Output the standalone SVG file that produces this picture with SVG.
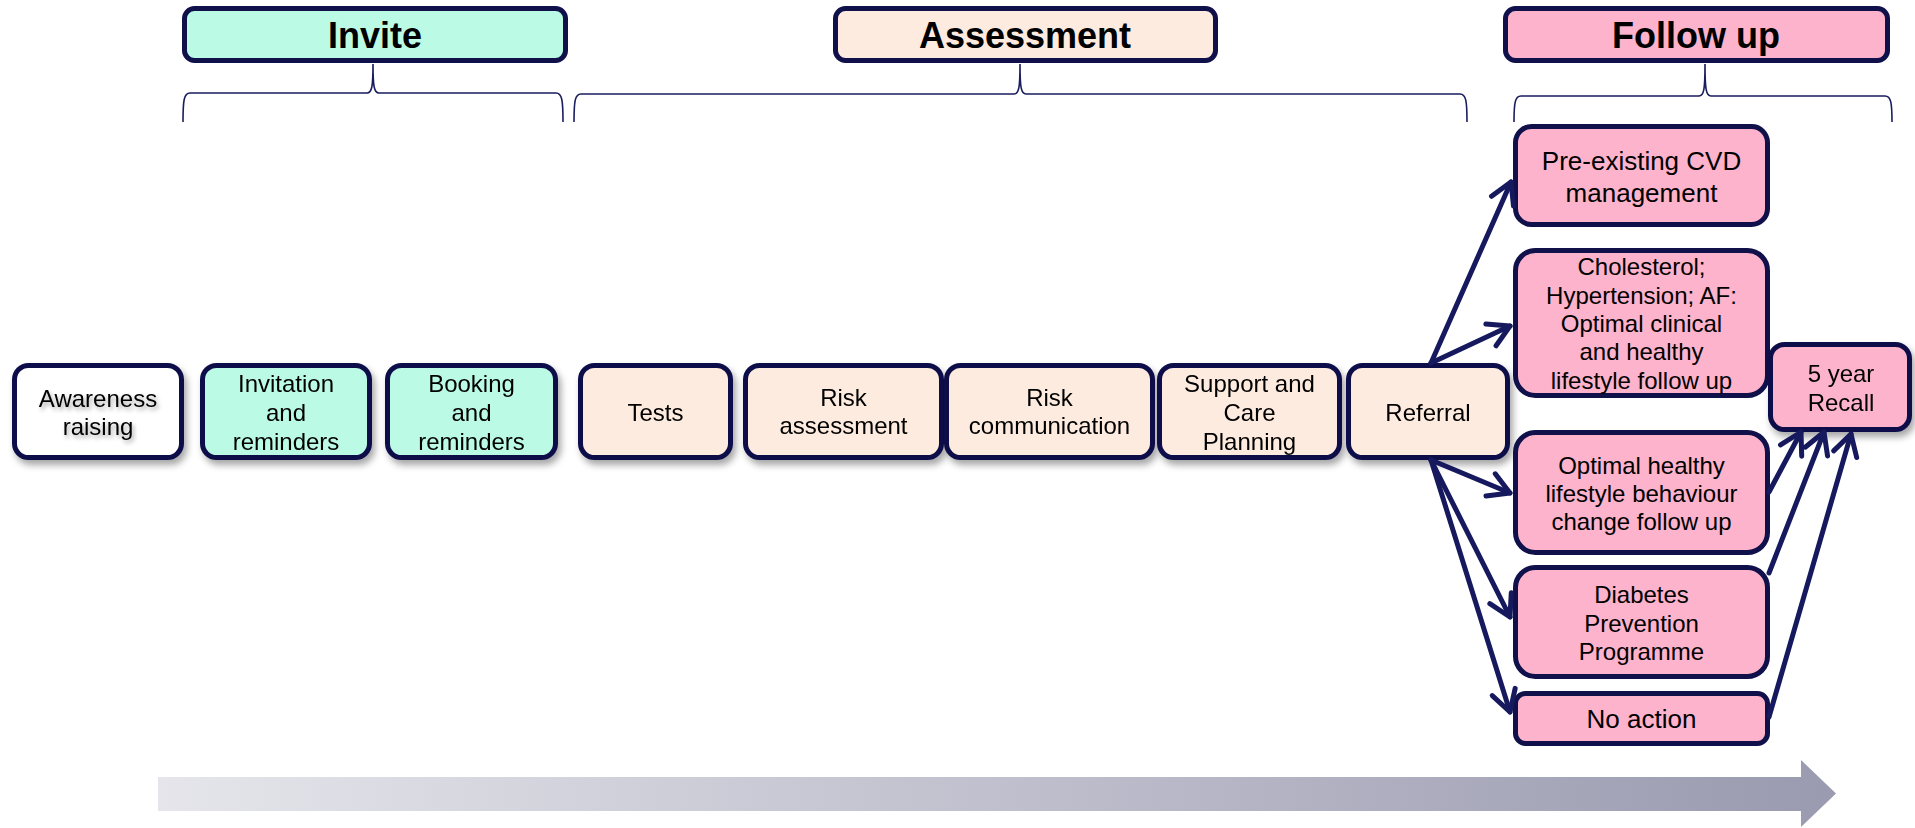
<svg xmlns="http://www.w3.org/2000/svg" width="1915" height="828" viewBox="0 0 1915 828">
  <defs>
    <style>
      .box { stroke: #10104a; stroke-width: 5; }
      .head { stroke: #10104a; stroke-width: 5; }
      .mint { fill: #bbfbe6; }
      .peach { fill: #fdebdf; }
      .pink { fill: #fdb3cb; }
      .white { fill: #ffffff; }
      .brace { fill: none; stroke: #1a1d5e; stroke-width: 1.6; }
      .conn { fill: none; stroke: #16195e; stroke-width: 5; stroke-linecap: round; marker-end: url(#arrow); }
      text { font-family: "Liberation Sans", Arial, sans-serif; fill: #000; text-anchor: middle; }
      .t24 { font-size: 24px; }
      .t26 { font-size: 26px; }
      .title { font-size: 36px; font-weight: bold; }
    </style>
    <filter id="shadow" x="-20%" y="-20%" width="150%" height="160%">
      <feDropShadow dx="3" dy="5" stdDeviation="3.5" flood-color="#000" flood-opacity="0.35"/>
    </filter>
    <filter id="textShadow" x="-10%" y="-30%" width="130%" height="180%">
      <feDropShadow dx="2" dy="3" stdDeviation="2" flood-color="#000" flood-opacity="0.35"/>
    </filter>
    <marker id="arrow" markerUnits="userSpaceOnUse" viewBox="-26 -16 30 32" refX="0" refY="0" markerWidth="30" markerHeight="32" orient="auto">
      <path d="M-21,-12 L0,0 L-21,12" fill="none" stroke="#16195e" stroke-width="5" stroke-linecap="round" stroke-linejoin="round"/>
    </marker>
    <linearGradient id="timeline" x1="0" y1="0" x2="1" y2="0">
      <stop offset="0" stop-color="#e5e5eb"/>
      <stop offset="1" stop-color="#9a9ab0"/>
    </linearGradient>
  </defs>

  <!-- stage headers -->
  <g id="header-invite">
    <rect class="head mint" x="184.5" y="8.5" width="381" height="52" rx="10"/>
    <text class="title" x="375" y="48">Invite</text>
  </g>
  <g id="header-assessment">
    <rect class="head peach" x="835.5" y="8.5" width="380" height="52" rx="10"/>
    <text class="title" x="1025" y="48">Assessment</text>
  </g>
  <g id="header-followup">
    <rect class="head pink" x="1505.5" y="8.5" width="382" height="52" rx="10"/>
    <text class="title" x="1696" y="48">Follow up</text>
  </g>

  <!-- curly braces under the headers -->
  <g id="braces">
    <path class="brace" d="M183,122 C183,100 184,93 190,93 L367,93 C372,93 373,86 373,64 C373,86 374,93 379,93 L556,93 C562,93 563,100 563,122"/>
    <path class="brace" d="M574,122 C574,101 575,94 581,94 L1014,94 C1019,94 1020,87 1020,64 C1020,87 1021,94 1026,94 L1460,94 C1466,94 1467,101 1467,122"/>
    <path class="brace" d="M1514,122 C1514,103 1515,96 1521,96 L1699,96 C1704,96 1705,89 1705,64 C1705,89 1706,96 1711,96 L1885,96 C1891,96 1892,103 1892,122"/>
  </g>

  <!-- main pathway -->
  <g id="node-awareness" filter="url(#shadow)">
    <rect class="box white" x="14.5" y="365.5" width="167" height="92" rx="14"/>
  </g>
  <g id="node-awareness-label" filter="url(#textShadow)">
    <text class="t24" x="98" y="406.5">Awareness</text>
    <text class="t24" x="98" y="434.5">raising</text>
  </g>
  <g id="node-invitation" filter="url(#shadow)">
    <rect class="box mint" x="202.5" y="365.5" width="167" height="92" rx="14"/>
    <text class="t24" x="286" y="391.5">Invitation</text>
    <text class="t24" x="286" y="421">and</text>
    <text class="t24" x="286" y="450">reminders</text>
  </g>
  <g id="node-booking" filter="url(#shadow)">
    <rect class="box mint" x="387.5" y="365.5" width="168" height="92" rx="14"/>
    <text class="t24" x="471.5" y="391.5">Booking</text>
    <text class="t24" x="471.5" y="421">and</text>
    <text class="t24" x="471.5" y="450">reminders</text>
  </g>
  <g id="node-tests" filter="url(#shadow)">
    <rect class="box peach" x="580.5" y="365.5" width="150" height="92" rx="14"/>
    <text class="t24" x="655.5" y="421">Tests</text>
  </g>
  <g id="node-risk-assessment" filter="url(#shadow)">
    <rect class="box peach" x="745.5" y="365.5" width="196" height="92" rx="14"/>
    <text class="t24" x="843.5" y="406">Risk</text>
    <text class="t24" x="843.5" y="434">assessment</text>
  </g>
  <g id="node-risk-communication" filter="url(#shadow)">
    <rect class="box peach" x="946.5" y="365.5" width="206" height="92" rx="14"/>
    <text class="t24" x="1049.5" y="406">Risk</text>
    <text class="t24" x="1049.5" y="434">communication</text>
  </g>
  <g id="node-support" filter="url(#shadow)">
    <rect class="box peach" x="1159.5" y="365.5" width="180" height="92" rx="14"/>
    <text class="t24" x="1249.5" y="391.5">Support and</text>
    <text class="t24" x="1249.5" y="421">Care</text>
    <text class="t24" x="1249.5" y="450">Planning</text>
  </g>
  <g id="node-referral" filter="url(#shadow)">
    <rect class="box peach" x="1348.5" y="365.5" width="159" height="92" rx="14"/>
    <text class="t24" x="1428" y="421">Referral</text>
  </g>

  <!-- follow-up outcomes -->
  <g id="node-preexisting-cvd">
    <rect class="box pink" x="1515.5" y="126.5" width="252" height="98" rx="16"/>
    <text class="t26" x="1641.5" y="170">Pre-existing CVD</text>
    <text class="t26" x="1641.5" y="201.5">management</text>
  </g>
  <g id="node-cholesterol">
    <rect class="box pink" x="1515.5" y="250.5" width="252" height="145" rx="20"/>
    <text class="t24" x="1641.5" y="275">Cholesterol;</text>
    <text class="t24" x="1641.5" y="303.5">Hypertension; AF:</text>
    <text class="t24" x="1641.5" y="331.5">Optimal clinical</text>
    <text class="t24" x="1641.5" y="360">and healthy</text>
    <text class="t24" x="1641.5" y="388.5">lifestyle follow up</text>
  </g>
  <g id="node-healthy-lifestyle">
    <rect class="box pink" x="1515.5" y="432.5" width="252" height="120" rx="20"/>
    <text class="t24" x="1641.5" y="473.5">Optimal healthy</text>
    <text class="t24" x="1641.5" y="501.5">lifestyle behaviour</text>
    <text class="t24" x="1641.5" y="530">change follow up</text>
  </g>
  <g id="node-diabetes">
    <rect class="box pink" x="1515.5" y="567.5" width="252" height="109" rx="20"/>
    <text class="t24" x="1641.5" y="602.5">Diabetes</text>
    <text class="t24" x="1641.5" y="631.5">Prevention</text>
    <text class="t24" x="1641.5" y="660">Programme</text>
  </g>
  <g id="node-no-action">
    <rect class="box pink" x="1515.5" y="693.5" width="252" height="50" rx="10"/>
    <text class="t26" x="1641.5" y="728">No action</text>
  </g>
  <g id="node-recall" filter="url(#shadow)">
    <rect class="box pink" x="1770.5" y="344.5" width="139" height="85" rx="14"/>
    <text class="t24" x="1841" y="381.5">5 year</text>
    <text class="t24" x="1841" y="410.5">Recall</text>
  </g>

  <!-- connectors -->
  <g id="connectors">
    <line class="conn" x1="1431" y1="363" x2="1511" y2="182"/>
    <line class="conn" x1="1431" y1="363" x2="1510" y2="326"/>
    <line class="conn" x1="1431" y1="460" x2="1510" y2="493"/>
    <line class="conn" x1="1431" y1="460" x2="1510" y2="617"/>
    <line class="conn" x1="1431" y1="460" x2="1510" y2="712"/>
    <line class="conn" x1="1769" y1="492" x2="1801" y2="432"/>
    <line class="conn" x1="1769" y1="573" x2="1824" y2="432"/>
    <line class="conn" x1="1769" y1="717" x2="1851" y2="434"/>
  </g>

  <!-- time direction arrow -->
  <g id="timeline-arrow">
    <polygon points="158,777 1801,777 1801,760 1836,793.5 1801,827 1801,811 158,811" fill="url(#timeline)"/>
  </g>
</svg>
